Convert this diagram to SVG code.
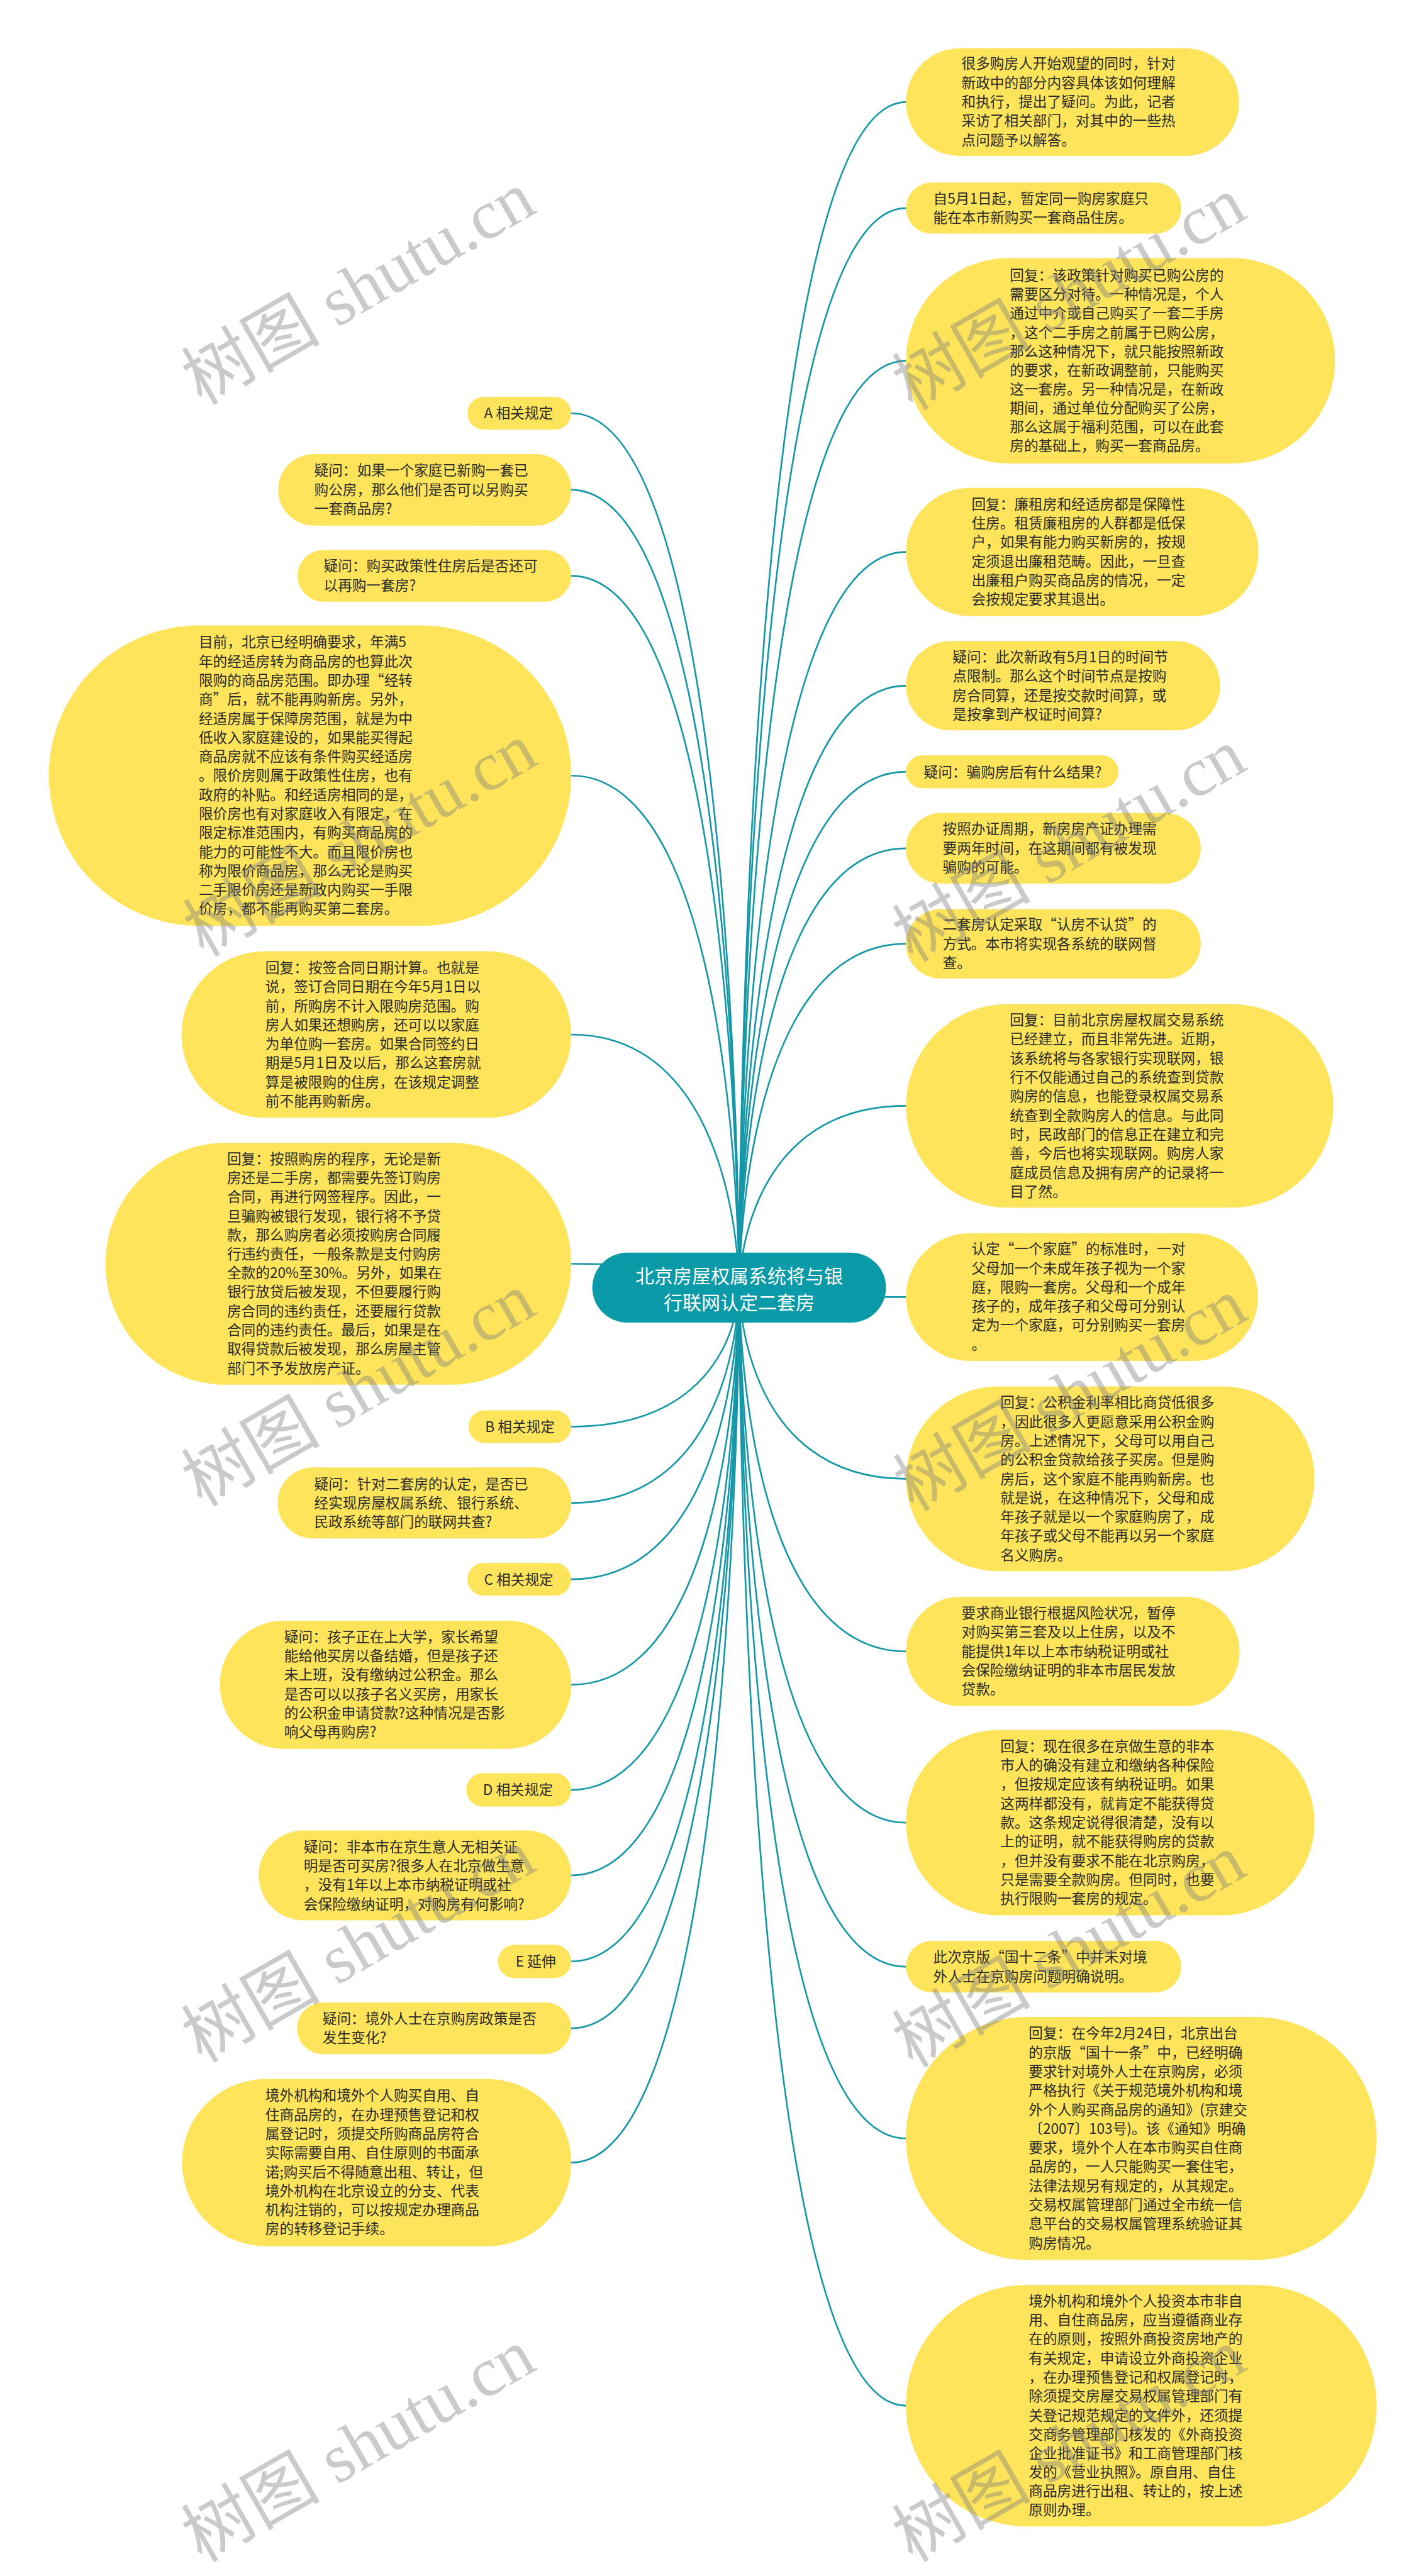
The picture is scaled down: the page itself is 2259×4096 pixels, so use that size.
<svg xmlns="http://www.w3.org/2000/svg" width="2259" height="4096" viewBox="0 0 2259 4096">
<style>
.y{fill:#FDE45B}
.t{font-family:"Noto Sans CJK SC","Noto Sans",sans-serif;font-size:25.7px;fill:#2b2b2b}
.ct{font-family:"Noto Sans CJK SC","Noto Sans",sans-serif;font-size:34px;fill:#ffffff;text-anchor:middle}
.c{fill:none;stroke:#1497A6;stroke-width:3}
.wm{font-family:"Liberation Serif","Noto Sans CJK SC",serif;font-size:125px;fill:#808080;fill-opacity:0.42;text-anchor:middle}
</style>
<rect x="0" y="0" width="2259" height="4096" fill="#ffffff"/>
<g transform="scale(0.8825)">
<g id="connectors">
<path class="c" d="M1632,184 C1331.5,184 1331.5,2320 1331.5,2320"/>
<path class="c" d="M1632,375 C1331.5,375 1331.5,2320 1331.5,2320"/>
<path class="c" d="M1632,650 C1331.5,650 1331.5,2320 1331.5,2320"/>
<path class="c" d="M1632,994.5 C1331.5,994.5 1331.5,2320 1331.5,2320"/>
<path class="c" d="M1632,1235.5 C1331.5,1235.5 1331.5,2320 1331.5,2320"/>
<path class="c" d="M1632,1390.5 C1331.5,1390.5 1331.5,2320 1331.5,2320"/>
<path class="c" d="M1632,1528.5 C1331.5,1528.5 1331.5,2320 1331.5,2320"/>
<path class="c" d="M1632,1700.5 C1331.5,1700.5 1331.5,2320 1331.5,2320"/>
<path class="c" d="M1632,1992.5 C1331.5,1992.5 1331.5,2320 1331.5,2320"/>
<path class="c" d="M1632,2337 C1331.5,2337 1331.5,2320 1331.5,2320"/>
<path class="c" d="M1632,2664.5 C1331.5,2664.5 1331.5,2320 1331.5,2320"/>
<path class="c" d="M1632,2975.5 C1331.5,2975.5 1331.5,2320 1331.5,2320"/>
<path class="c" d="M1632,3284 C1331.5,3284 1331.5,2320 1331.5,2320"/>
<path class="c" d="M1632,3543.5 C1331.5,3543.5 1331.5,2320 1331.5,2320"/>
<path class="c" d="M1632,3853 C1331.5,3853 1331.5,2320 1331.5,2320"/>
<path class="c" d="M1632,4334.5 C1331.5,4334.5 1331.5,2320 1331.5,2320"/>
<path class="c" d="M1029,744.5 C1331.5,744.5 1331.5,2320 1331.5,2320"/>
<path class="c" d="M1029,882.5 C1331.5,882.5 1331.5,2320 1331.5,2320"/>
<path class="c" d="M1029,1037.5 C1331.5,1037.5 1331.5,2320 1331.5,2320"/>
<path class="c" d="M1029,1397.5 C1331.5,1397.5 1331.5,2320 1331.5,2320"/>
<path class="c" d="M1029,1864 C1331.5,1864 1331.5,2320 1331.5,2320"/>
<path class="c" d="M1029,2277 C1331.5,2277 1331.5,2320 1331.5,2320"/>
<path class="c" d="M1029,2570.5 C1331.5,2570.5 1331.5,2320 1331.5,2320"/>
<path class="c" d="M1029,2708 C1331.5,2708 1331.5,2320 1331.5,2320"/>
<path class="c" d="M1029,2845.5 C1331.5,2845.5 1331.5,2320 1331.5,2320"/>
<path class="c" d="M1029,3035.5 C1331.5,3035.5 1331.5,2320 1331.5,2320"/>
<path class="c" d="M1029,3225 C1331.5,3225 1331.5,2320 1331.5,2320"/>
<path class="c" d="M1029,3379 C1331.5,3379 1331.5,2320 1331.5,2320"/>
<path class="c" d="M1029,3534 C1331.5,3534 1331.5,2320 1331.5,2320"/>
<path class="c" d="M1029,3654.5 C1331.5,3654.5 1331.5,2320 1331.5,2320"/>
<path class="c" d="M1029,3896.5 C1331.5,3896.5 1331.5,2320 1331.5,2320"/>
</g>

<g id="center">
<rect x="1067" y="2257" width="529" height="126" rx="63" fill="#0B9AA8"/>
<text class="ct"><tspan x="1331.5" y="2312">北京房屋权属系统将与银</tspan><tspan x="1331.5" y="2359">行联网认定二套房</tspan></text>
</g>

<g id="r1">
<rect class="y" x="1632" y="87" width="600" height="194" rx="97"/>
<text class="t"><tspan x="1732" y="124">很多购房人开始观望的同时，针对</tspan><tspan x="1732" y="159">新政中的部分内容具体该如何理解</tspan><tspan x="1732" y="193">和执行，提出了疑问。为此，记者</tspan><tspan x="1732" y="227">采访了相关部门，对其中的一些热</tspan><tspan x="1732" y="262">点问题予以解答。</tspan></text>
</g>
<g id="r2">
<rect class="y" x="1632" y="329" width="496" height="92" rx="46"/>
<text class="t"><tspan x="1681" y="367">自5月1日起，暂定同一购房家庭只</tspan><tspan x="1681" y="401">能在本市新购买一套商品住房。</tspan></text>
</g>
<g id="r3">
<rect class="y" x="1632" y="465" width="773" height="370" rx="185"/>
<text class="t"><tspan x="1819" y="505">回复：该政策针对购买已购公房的</tspan><tspan x="1819" y="539">需要区分对待。一种情况是，个人</tspan><tspan x="1819" y="573">通过中介或自己购买了一套二手房</tspan><tspan x="1819" y="608">，这个二手房之前属于已购公房，</tspan><tspan x="1819" y="642">那么这种情况下，就只能按照新政</tspan><tspan x="1819" y="676">的要求，在新政调整前，只能购买</tspan><tspan x="1819" y="710">这一套房。另一种情况是，在新政</tspan><tspan x="1819" y="745">期间，通过单位分配购买了公房，</tspan><tspan x="1819" y="779">那么这属于福利范围，可以在此套</tspan><tspan x="1819" y="813">房的基础上，购买一套商品房。</tspan></text>
</g>
<g id="r4">
<rect class="y" x="1632" y="879" width="635" height="231" rx="115.5"/>
<text class="t"><tspan x="1750" y="918">回复：廉租房和经适房都是保障性</tspan><tspan x="1750" y="952">住房。租赁廉租房的人群都是低保</tspan><tspan x="1750" y="986">户，如果有能力购买新房的，按规</tspan><tspan x="1750" y="1021">定须退出廉租范畴。因此，一旦查</tspan><tspan x="1750" y="1055">出廉租户购买商品房的情况，一定</tspan><tspan x="1750" y="1089">会按规定要求其退出。</tspan></text>
</g>
<g id="r5">
<rect class="y" x="1632" y="1155" width="566" height="161" rx="80.5"/>
<text class="t"><tspan x="1716" y="1193">疑问：此次新政有5月1日的时间节</tspan><tspan x="1716" y="1227">点限制。那么这个时间节点是按购</tspan><tspan x="1716" y="1262">房合同算，还是按交款时间算，或</tspan><tspan x="1716" y="1296">是按拿到产权证时间算?</tspan></text>
</g>
<g id="r6">
<rect class="y" x="1632" y="1361" width="383" height="59" rx="29.5"/>
<text class="t"><tspan x="1664" y="1400">疑问：骗购房后有什么结果?</tspan></text>
</g>
<g id="r7">
<rect class="y" x="1632" y="1465" width="531" height="127" rx="63.5"/>
<text class="t"><tspan x="1698" y="1503">按照办证周期，新房房产证办理需</tspan><tspan x="1698" y="1538">要两年时间，在这期间都有被发现</tspan><tspan x="1698" y="1572">骗购的可能。</tspan></text>
</g>
<g id="r8">
<rect class="y" x="1632" y="1638" width="531" height="125" rx="62.5"/>
<text class="t"><tspan x="1698" y="1675">二套房认定采取“认房不认贷”的</tspan><tspan x="1698" y="1710">方式。本市将实现各系统的联网督</tspan><tspan x="1698" y="1744">查。</tspan></text>
</g>
<g id="r9">
<rect class="y" x="1632" y="1809" width="770" height="367" rx="183.5"/>
<text class="t"><tspan x="1819" y="1847">回复：目前北京房屋权属交易系统</tspan><tspan x="1819" y="1881">已经建立，而且非常先进。近期，</tspan><tspan x="1819" y="1916">该系统将与各家银行实现联网，银</tspan><tspan x="1819" y="1950">行不仅能通过自己的系统查到贷款</tspan><tspan x="1819" y="1984">购房的信息，也能登录权属交易系</tspan><tspan x="1819" y="2019">统查到全款购房人的信息。与此同</tspan><tspan x="1819" y="2053">时，民政部门的信息正在建立和完</tspan><tspan x="1819" y="2087">善，今后也将实现联网。购房人家</tspan><tspan x="1819" y="2122">庭成员信息及拥有房产的记录将一</tspan><tspan x="1819" y="2156">目了然。</tspan></text>
</g>
<g id="r10">
<rect class="y" x="1632" y="2222" width="634" height="230" rx="115"/>
<text class="t"><tspan x="1750" y="2260">认定“一个家庭”的标准时，一对</tspan><tspan x="1750" y="2295">父母加一个未成年孩子视为一个家</tspan><tspan x="1750" y="2329">庭，限购一套房。父母和一个成年</tspan><tspan x="1750" y="2363">孩子的，成年孩子和父母可分别认</tspan><tspan x="1750" y="2397">定为一个家庭，可分别购买一套房</tspan><tspan x="1750" y="2432">。</tspan></text>
</g>
<g id="r11">
<rect class="y" x="1632" y="2498" width="736" height="333" rx="166.5"/>
<text class="t"><tspan x="1802" y="2536">回复：公积金利率相比商贷低很多</tspan><tspan x="1802" y="2571">，因此很多人更愿意采用公积金购</tspan><tspan x="1802" y="2605">房。上述情况下，父母可以用自己</tspan><tspan x="1802" y="2639">的公积金贷款给孩子买房。但是购</tspan><tspan x="1802" y="2674">房后，这个家庭不能再购新房。也</tspan><tspan x="1802" y="2708">就是说，在这种情况下，父母和成</tspan><tspan x="1802" y="2742">年孩子就是以一个家庭购房了，成</tspan><tspan x="1802" y="2776">年孩子或父母不能再以另一个家庭</tspan><tspan x="1802" y="2811">名义购房。</tspan></text>
</g>
<g id="r12">
<rect class="y" x="1632" y="2877" width="601" height="197" rx="98.5"/>
<text class="t"><tspan x="1732" y="2916">要求商业银行根据风险状况，暂停</tspan><tspan x="1732" y="2950">对购买第三套及以上住房，以及不</tspan><tspan x="1732" y="2985">能提供1年以上本市纳税证明或社</tspan><tspan x="1732" y="3019">会保险缴纳证明的非本市居民发放</tspan><tspan x="1732" y="3053">贷款。</tspan></text>
</g>
<g id="r13">
<rect class="y" x="1632" y="3117" width="736" height="334" rx="167"/>
<text class="t"><tspan x="1802" y="3156">回复：现在很多在京做生意的非本</tspan><tspan x="1802" y="3190">市人的确没有建立和缴纳各种保险</tspan><tspan x="1802" y="3224">，但按规定应该有纳税证明。如果</tspan><tspan x="1802" y="3259">这两样都没有，就肯定不能获得贷</tspan><tspan x="1802" y="3293">款。这条规定说得很清楚，没有以</tspan><tspan x="1802" y="3327">上的证明，就不能获得购房的贷款</tspan><tspan x="1802" y="3362">，但并没有要求不能在北京购房，</tspan><tspan x="1802" y="3396">只是需要全款购房。但同时，也要</tspan><tspan x="1802" y="3430">执行限购一套房的规定。</tspan></text>
</g>
<g id="r14">
<rect class="y" x="1632" y="3497" width="496" height="93" rx="46.5"/>
<text class="t"><tspan x="1681" y="3535">此次京版“国十二条”中并未对境</tspan><tspan x="1681" y="3570">外人士在京购房问题明确说明。</tspan></text>
</g>
<g id="r15">
<rect class="y" x="1632" y="3634" width="848" height="438" rx="219"/>
<text class="t"><tspan x="1853" y="3673">回复：在今年2月24日，北京出台</tspan><tspan x="1853" y="3708">的京版“国十一条”中，已经明确</tspan><tspan x="1853" y="3742">要求针对境外人士在京购房，必须</tspan><tspan x="1853" y="3776">严格执行《关于规范境外机构和境</tspan><tspan x="1853" y="3811">外个人购买商品房的通知》(京建交</tspan><tspan x="1853" y="3845">〔2007〕103号)。该《通知》明确</tspan><tspan x="1853" y="3879">要求，境外个人在本市购买自住商</tspan><tspan x="1853" y="3913">品房的，一人只能购买一套住宅，</tspan><tspan x="1853" y="3948">法律法规另有规定的，从其规定。</tspan><tspan x="1853" y="3982">交易权属管理部门通过全市统一信</tspan><tspan x="1853" y="4016">息平台的交易权属管理系统验证其</tspan><tspan x="1853" y="4051">购房情况。</tspan></text>
</g>
<g id="r16">
<rect class="y" x="1632" y="4117" width="848" height="435" rx="217.5"/>
<text class="t"><tspan x="1853" y="4155">境外机构和境外个人投资本市非自</tspan><tspan x="1853" y="4189">用、自住商品房，应当遵循商业存</tspan><tspan x="1853" y="4223">在的原则，按照外商投资房地产的</tspan><tspan x="1853" y="4258">有关规定，申请设立外商投资企业</tspan><tspan x="1853" y="4292">，在办理预售登记和权属登记时，</tspan><tspan x="1853" y="4326">除须提交房屋交易权属管理部门有</tspan><tspan x="1853" y="4361">关登记规范规定的文件外，还须提</tspan><tspan x="1853" y="4395">交商务管理部门核发的《外商投资</tspan><tspan x="1853" y="4429">企业批准证书》和工商管理部门核</tspan><tspan x="1853" y="4464">发的《营业执照》。原自用、自住</tspan><tspan x="1853" y="4498">商品房进行出租、转让的，按上述</tspan><tspan x="1853" y="4532">原则办理。</tspan></text>
</g>

<g id="la">
<rect class="y" x="842" y="715" width="187" height="59" rx="29.5"/>
<text class="t"><tspan x="872" y="754">A 相关规定</tspan></text>
</g>
<g id="l1">
<rect class="y" x="501" y="818" width="528" height="129" rx="64.5"/>
<text class="t"><tspan x="566" y="857">疑问：如果一个家庭已新购一套已</tspan><tspan x="566" y="892">购公房，那么他们是否可以另购买</tspan><tspan x="566" y="926">一套商品房?</tspan></text>
</g>
<g id="l2">
<rect class="y" x="536" y="991" width="493" height="93" rx="46.5"/>
<text class="t"><tspan x="583" y="1029">疑问：购买政策性住房后是否还可</tspan><tspan x="583" y="1064">以再购一套房?</tspan></text>
</g>
<g id="l3">
<rect class="y" x="88" y="1127" width="941" height="541" rx="270.5"/>
<text class="t"><tspan x="358" y="1166">目前，北京已经明确要求，年满5</tspan><tspan x="358" y="1201">年的经适房转为商品房的也算此次</tspan><tspan x="358" y="1235">限购的商品房范围。即办理“经转</tspan><tspan x="358" y="1269">商”后，就不能再购新房。另外，</tspan><tspan x="358" y="1304">经适房属于保障房范围，就是为中</tspan><tspan x="358" y="1338">低收入家庭建设的，如果能买得起</tspan><tspan x="358" y="1372">商品房就不应该有条件购买经适房</tspan><tspan x="358" y="1406">。限价房则属于政策性住房，也有</tspan><tspan x="358" y="1441">政府的补贴。和经适房相同的是，</tspan><tspan x="358" y="1475">限价房也有对家庭收入有限定，在</tspan><tspan x="358" y="1509">限定标准范围内，有购买商品房的</tspan><tspan x="358" y="1544">能力的可能性不大。而且限价房也</tspan><tspan x="358" y="1578">称为限价商品房，那么无论是购买</tspan><tspan x="358" y="1612">二手限价房还是新政内购买一手限</tspan><tspan x="358" y="1647">价房，都不能再购买第二套房。</tspan></text>
</g>
<g id="l4">
<rect class="y" x="327" y="1714" width="702" height="300" rx="150"/>
<text class="t"><tspan x="478" y="1753">回复：按签合同日期计算。也就是</tspan><tspan x="478" y="1787">说，签订合同日期在今年5月1日以</tspan><tspan x="478" y="1822">前，所购房不计入限购房范围。购</tspan><tspan x="478" y="1856">房人如果还想购房，还可以以家庭</tspan><tspan x="478" y="1890">为单位购一套房。如果合同签约日</tspan><tspan x="478" y="1924">期是5月1日及以后，那么这套房就</tspan><tspan x="478" y="1959">算是被限购的住房，在该规定调整</tspan><tspan x="478" y="1993">前不能再购新房。</tspan></text>
</g>
<g id="l5">
<rect class="y" x="190" y="2059" width="839" height="436" rx="218"/>
<text class="t"><tspan x="409" y="2097">回复：按照购房的程序，无论是新</tspan><tspan x="409" y="2132">房还是二手房，都需要先签订购房</tspan><tspan x="409" y="2166">合同，再进行网签程序。因此，一</tspan><tspan x="409" y="2200">旦骗购被银行发现，银行将不予贷</tspan><tspan x="409" y="2235">款，那么购房者必须按购房合同履</tspan><tspan x="409" y="2269">行违约责任，一般条款是支付购房</tspan><tspan x="409" y="2303">全款的20%至30%。另外，如果在</tspan><tspan x="409" y="2337">银行放贷后被发现，不但要履行购</tspan><tspan x="409" y="2372">房合同的违约责任，还要履行贷款</tspan><tspan x="409" y="2406">合同的违约责任。最后，如果是在</tspan><tspan x="409" y="2440">取得贷款后被发现，那么房屋主管</tspan><tspan x="409" y="2475">部门不予发放房产证。</tspan></text>
</g>
<g id="lb">
<rect class="y" x="844" y="2541" width="185" height="59" rx="29.5"/>
<text class="t"><tspan x="874" y="2580">B 相关规定</tspan></text>
</g>
<g id="l6">
<rect class="y" x="500" y="2644" width="529" height="128" rx="64"/>
<text class="t"><tspan x="566" y="2683">疑问：针对二套房的认定，是否已</tspan><tspan x="566" y="2717">经实现房屋权属系统、银行系统、</tspan><tspan x="566" y="2751">民政系统等部门的联网共查?</tspan></text>
</g>
<g id="lc">
<rect class="y" x="842" y="2816" width="187" height="59" rx="29.5"/>
<text class="t"><tspan x="872" y="2855">C 相关规定</tspan></text>
</g>
<g id="l7">
<rect class="y" x="396" y="2920" width="633" height="231" rx="115.5"/>
<text class="t"><tspan x="512" y="2959">疑问：孩子正在上大学，家长希望</tspan><tspan x="512" y="2993">能给他买房以备结婚，但是孩子还</tspan><tspan x="512" y="3027">未上班，没有缴纳过公积金。那么</tspan><tspan x="512" y="3062">是否可以以孩子名义买房，用家长</tspan><tspan x="512" y="3096">的公积金申请贷款?这种情况是否影</tspan><tspan x="512" y="3130">响父母再购房?</tspan></text>
</g>
<g id="ld">
<rect class="y" x="840" y="3195" width="189" height="60" rx="30"/>
<text class="t"><tspan x="870" y="3234">D 相关规定</tspan></text>
</g>
<g id="l8">
<rect class="y" x="466" y="3298" width="563" height="162" rx="81"/>
<text class="t"><tspan x="547" y="3337">疑问：非本市在京生意人无相关证</tspan><tspan x="547" y="3371">明是否可买房?很多人在北京做生意</tspan><tspan x="547" y="3405">，没有1年以上本市纳税证明或社</tspan><tspan x="547" y="3440">会保险缴纳证明，对购房有何影响?</tspan></text>
</g>
<g id="le">
<rect class="y" x="897" y="3504" width="132" height="60" rx="30"/>
<text class="t"><tspan x="929" y="3543">E 延伸</tspan></text>
</g>
<g id="l9">
<rect class="y" x="535" y="3608" width="494" height="93" rx="46.5"/>
<text class="t"><tspan x="581" y="3646">疑问：境外人士在京购房政策是否</tspan><tspan x="581" y="3681">发生变化?</tspan></text>
</g>
<g id="l10">
<rect class="y" x="328" y="3746" width="701" height="301" rx="150.5"/>
<text class="t"><tspan x="478" y="3785">境外机构和境外个人购买自用、自</tspan><tspan x="478" y="3820">住商品房的，在办理预售登记和权</tspan><tspan x="478" y="3854">属登记时，须提交所购商品房符合</tspan><tspan x="478" y="3888">实际需要自用、自住原则的书面承</tspan><tspan x="478" y="3923">诺;购买后不得随意出租、转让，但</tspan><tspan x="478" y="3957">境外机构在北京设立的分支、代表</tspan><tspan x="478" y="3991">机构注销的，可以按规定办理商品</tspan><tspan x="478" y="4025">房的转移登记手续。</tspan></text>
</g>

<g id="watermarks">
<text class="wm" transform="translate(645,518) rotate(-30)" dy="0.35em">树图 shutu.cn</text>
<text class="wm" transform="translate(1925,528) rotate(-30)" dy="0.35em">树图 shutu.cn</text>
<text class="wm" transform="translate(648,1512) rotate(-30)" dy="0.35em">树图 shutu.cn</text>
<text class="wm" transform="translate(1925,1522) rotate(-30)" dy="0.35em">树图 shutu.cn</text>
<text class="wm" transform="translate(645,2503) rotate(-30)" dy="0.35em">树图 shutu.cn</text>
<text class="wm" transform="translate(1927,2512) rotate(-30)" dy="0.35em">树图 shutu.cn</text>
<text class="wm" transform="translate(645,3505) rotate(-30)" dy="0.35em">树图 shutu.cn</text>
<text class="wm" transform="translate(1925,3514) rotate(-30)" dy="0.35em">树图 shutu.cn</text>
<text class="wm" transform="translate(645,4405) rotate(-30)" dy="0.35em">树图 shutu.cn</text>
<text class="wm" transform="translate(1925,4405) rotate(-30)" dy="0.35em">树图 shutu.cn</text>
</g>
</g>
</svg>
